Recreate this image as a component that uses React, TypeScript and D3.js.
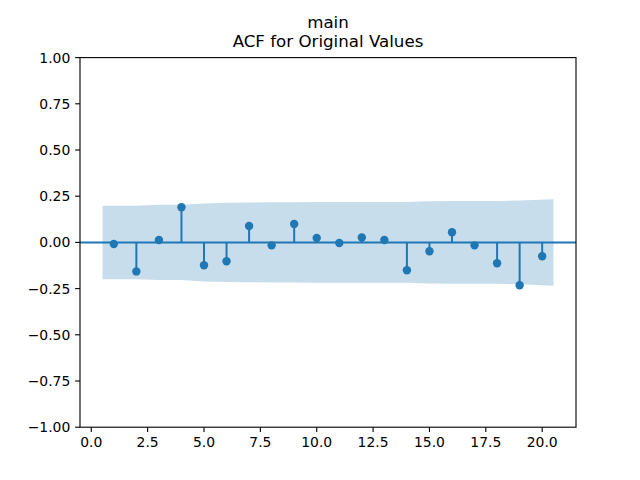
import React from "react";
import * as d3 from "d3";

const lags = [1, 2, 3, 4, 5, 6, 7, 8, 9, 10, 11, 12, 13, 14, 15, 16, 17, 18, 19, 20];
const acfValues = [-0.009, -0.157, 0.013, 0.19, -0.124, -0.102, 0.089, -0.016, 0.1, 0.024, -0.003, 0.027, 0.013, -0.151, -0.048, 0.055, -0.016, -0.113, -0.232, -0.075];
const confBand = [0.199, 0.199, 0.204, 0.204, 0.211, 0.214, 0.216, 0.217, 0.217, 0.219, 0.219, 0.219, 0.219, 0.219, 0.223, 0.224, 0.224, 0.224, 0.227, 0.234];
const xTicks = [0, 2.5, 5, 7.5, 10, 12.5, 15, 17.5, 20];
const yTicks = [-1, -0.75, -0.5, -0.25, 0, 0.25, 0.5, 0.75, 1];
const titleLines = ["main", "ACF for Original Values"];

const W = 640, H = 480;
const L = 80, R = 576, T = 57.6, B = 427.2;
const C0 = "#1f77b4";
const font = "DejaVu Sans, sans-serif";

export default function App() {
  const x = d3.scaleLinear().domain([-0.5, 21.5]).range([L, R]);
  const y = d3.scaleLinear().domain([-1, 1]).range([B, T]);

  const bandX = lags.map((l, i) => (i === 0 ? l - 0.5 : i === lags.length - 1 ? l + 0.5 : l));
  const area = d3
    .area<number>()
    .x((_, i) => x(bandX[i]))
    .y0((d) => y(-d))
    .y1((d) => y(d));

  const tickLen = 4.86;
  const pad = 4.86;

  return (
    <svg width={W} height={H} style={{ position: "absolute", left: 0, top: 0, background: "#fff" }} fontFamily={font}>
      <rect x={0} y={0} width={W} height={H} fill="#fff" />
      <path d={area(confBand) || ""} fill={C0} fillOpacity={0.25} stroke="none" />
      <line x1={L} x2={R} y1={y(0)} y2={y(0)} stroke={C0} strokeWidth={2} />
      {lags.map((l, i) => (
        <line key={"s" + l} x1={x(l)} x2={x(l)} y1={y(0)} y2={y(acfValues[i])} stroke={C0} strokeWidth={2} />
      ))}
      {lags.map((l, i) => (
        <circle key={"c" + l} cx={x(l)} cy={y(acfValues[i])} r={4.2} fill={C0} />
      ))}
      <rect x={L} y={T} width={R - L} height={B - T} fill="none" stroke="#000" strokeWidth={1.11} />
      {xTicks.map((t) => (
        <g key={"x" + t}>
          <line x1={x(t)} x2={x(t)} y1={B} y2={B + tickLen} stroke="#000" strokeWidth={1.11} />
          <text x={x(t)} y={B + tickLen + pad} dy="0.76em" fontSize={13.9} textAnchor="middle">
            {d3.format(".1f")(t)}
          </text>
        </g>
      ))}
      {yTicks.map((t) => (
        <g key={"y" + t}>
          <line x1={L - tickLen} x2={L} y1={y(t)} y2={y(t)} stroke="#000" strokeWidth={1.11} />
          <text x={L - tickLen - pad} y={y(t)} dy="0.36em" fontSize={13.9} textAnchor="end">
            {d3.format(".2f")(t).replace("-", "\u2212")}
          </text>
        </g>
      ))}
      {titleLines.map((s, i) => (
        <text key={s} x={(L + R) / 2} y={28 + i * 19.4} fontSize={16.67} textAnchor="middle">
          {s}
        </text>
      ))}
    </svg>
  );
}
